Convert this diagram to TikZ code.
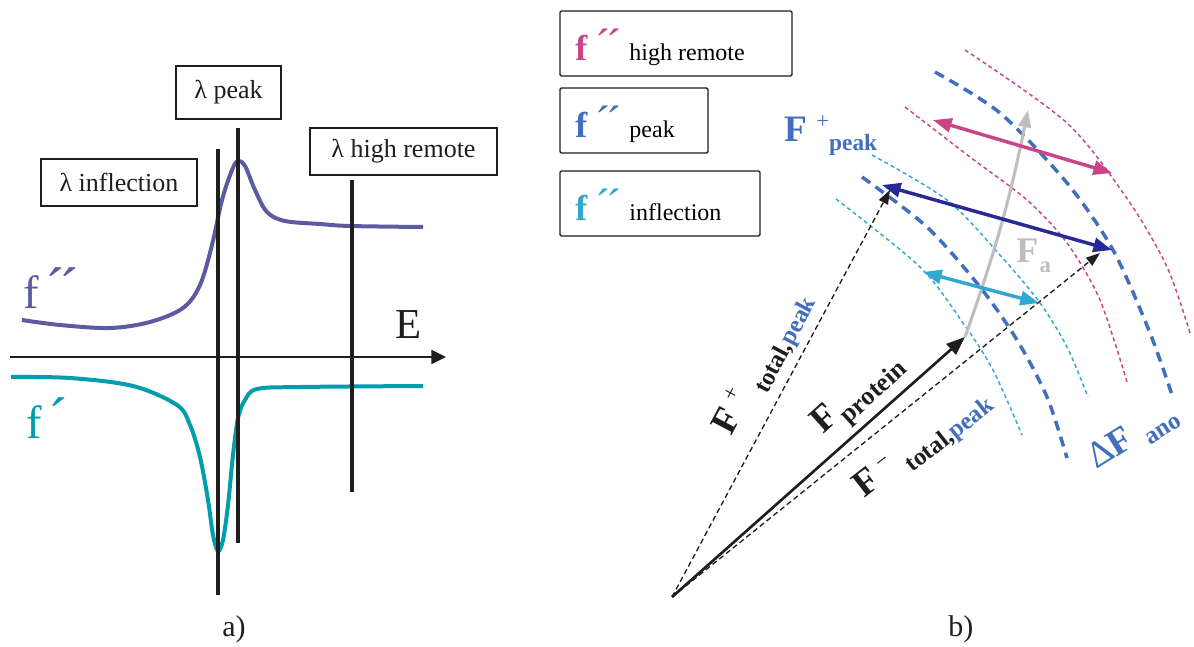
\documentclass[tikz,border=0pt]{standalone}
\usepackage{fontspec}
\setmainfont{Liberation Serif}
\usetikzlibrary{arrows.meta}
\definecolor{cpurp}{RGB}{92,90,160}
\definecolor{cteal}{RGB}{0,158,172}
\definecolor{cpink}{RGB}{200,70,136}
\definecolor{cblue}{RGB}{66,110,190}
\definecolor{cdblue}{RGB}{40,40,150}
\definecolor{ccyan}{RGB}{50,168,208}
\definecolor{cgray}{RGB}{190,190,192}
\definecolor{cblack}{RGB}{30,30,30}
\newcommand{\fsz}[1]{\fontsize{#1}{#1}\selectfont}
\begin{document}
\begin{tikzpicture}[x=0.75pt,y=-0.75pt,
  vline/.style={line width=2.3pt, draw=cblack},
  lbox/.style={draw=cblack, line width=1.6pt, inner sep=0pt, font=\fsz{19.5pt}, text=cblack},
  rbox/.style={draw=cblack, line width=1.1pt, inner sep=0pt, rounded corners=1pt, minimum height=48.75pt},
  lab/.style={inner sep=0pt, anchor=base west},
  thinarc/.style={line width=1.1pt, dash pattern=on 3pt off 2.3pt},
  thickarc/.style={line width=2.6pt, dash pattern=on 7.5pt off 5pt, draw=cblue},
  dbl/.style={line width=2.6pt, {Triangle[length=14pt,width=10.5pt]}-{Triangle[length=14pt,width=10.5pt]}},
  dasharr/.style={line width=1pt, draw=cblack, dash pattern=on 4pt off 2.5pt, -{Triangle[length=10.5pt,width=7.5pt]}}
]
\useasboundingbox (0,0) rectangle (1194,646);
\fill[white] (0,0) rectangle (1194,646);

% ---------------- panel a ----------------
\coordinate (ax0) at (10,357);
\coordinate (ax1) at (446,357);
\draw[line width=1.6pt, cblack, -{Triangle[length=11pt,width=10.5pt]}] (ax0) -- (ax1);

\draw[cpurp, line width=3pt] plot[smooth, tension=0.55] coordinates {(22,320) (60,325) (110,328) (150,322) (183,308) (200,285) (212,245) (222,200) (232,170) (238,161) (245,166) (255,190) (267,212) (285,221) (320,224) (350,226) (423,227)};
\draw[cteal, line width=3pt] plot[smooth, tension=0.55] coordinates {(11,377) (70,378) (133,386) (177,405) (190,425) (200,457) (208,500) (213,535) (218,551) (223,540) (228,505) (233,455) (238,418) (245,400) (257,389) (300,387) (423,386)};

\coordinate (vi0) at (218,149); \coordinate (vi1) at (218,595);
\coordinate (vp0) at (238,128); \coordinate (vp1) at (238,543);
\coordinate (vh0) at (352,180); \coordinate (vh1) at (352,492);
\draw[vline] (vi0) -- (vi1);
\draw[vline] (vp0) -- (vp1);
\draw[vline] (vh0) -- (vh1);

\node[lbox, minimum width=78.75pt, minimum height=39.75pt] (bpeak) at (228.5,92.5) {λ peak};
\node[lbox, minimum width=117pt, minimum height=35.25pt] (binfl) at (119,182.5) {λ inflection};
\node[lbox, minimum width=140.25pt, minimum height=35.25pt] (bhigh) at (403.5,151.5) {λ high remote};

\node[lab, text=cblack] (E) at (395,338) {\fsz{32pt}E};
\node[lab, text=cpurp] (fpp) at (23,308) {\fsz{35pt}f\hspace{5pt}{\fsz{44pt}´\hspace{-4pt}´}};
\node[lab, text=cteal] (fp) at (26,438) {\fsz{35pt}f\hspace{5pt}{\fsz{44pt}´}};
\node[lab, text=cblack] (la) at (222,636) {\fsz{22.5pt}a)};

% ---------------- panel b ----------------
\node[rbox, minimum width=174pt] (rb1) at (676,43.5) {};
\node[rbox, minimum width=111pt] (rb2) at (634,120.5) {};
\node[rbox, minimum width=150pt] (rb3) at (660,203.5) {};
\node[lab] (rt1) at (575,60) {\textcolor{cpink}{\fsz{27pt}\bfseries f}\textcolor{cpink}{\fsz{34pt}\hspace{6pt}´\hspace{-3pt}´}\hspace{6pt}{\fsz{18pt}high remote}};
\node[lab] (rt2) at (575,137) {\textcolor{cblue}{\fsz{27pt}\bfseries f}\textcolor{cblue}{\fsz{34pt}\hspace{6pt}´\hspace{-3pt}´}\hspace{6pt}{\fsz{18pt}peak}};
\node[lab] (rt3) at (575,220) {\textcolor{ccyan}{\fsz{27pt}\bfseries f}\textcolor{ccyan}{\fsz{34pt}\hspace{6pt}´\hspace{-3pt}´}\hspace{6pt}{\fsz{18pt}inflection}};

% arcs
\draw[thinarc, draw=ccyan] plot[smooth] coordinates {(836,199) (920,267) (963,323) (993,370) (1022,435)};
\draw[thinarc, draw=ccyan] plot[smooth] coordinates {(872,155) (947,200) (1000,255) (1040,303) (1067,347) (1088,397)};
\draw[thickarc] plot[smooth] coordinates {(862,177) (927,227) (980,287) (1017,340) (1047,397) (1067,458)};
\draw[thinarc, draw=cpink] plot[smooth] coordinates {(905,107) (970,157) (1027,200) (1067,243) (1100,300) (1127,382)};
\draw[thickarc] plot[smooth] coordinates {(935,72) (1000,113) (1067,183) (1113,250) (1150,333) (1172,395)};
\draw[thinarc, draw=cpink] plot[smooth] coordinates {(965,50) (1067,123) (1128,200) (1167,267) (1190,333)};

% vectors
\coordinate (O) at (672,597);
\coordinate (Pt) at (965,337);
\coordinate (Pp) at (890,190);
\coordinate (Pm) at (1100,253);
\coordinate (Fa) at (1028,110);
\draw[dasharr] (O) -- (Pp);
\draw[dasharr] (O) -- (Pm);
\draw[line width=2pt, cblack, -{Triangle[length=14pt,width=10.5pt]}] (O) -- (Pt);
\draw[line width=2.3pt, cgray, -{Triangle[length=13pt,width=9.5pt]}] (Pt) to[bend right=4] (Fa);

\coordinate (pk1) at (933,120); \coordinate (pk2) at (1112,173);
\coordinate (db1) at (882,185); \coordinate (db2) at (1112,250);
\coordinate (cy1) at (923,272); \coordinate (cy2) at (1039,303);
\draw[dbl, cpink] (pk1) -- (pk2);
\draw[dbl, cdblue] (db1) -- (db2);
\draw[dbl, ccyan] (cy1) -- (cy2);

% labels
\node[lab, text=cblue] (Fpk) at (784,141) {\fsz{28pt}\bfseries F\hspace{7pt}\raisebox{9.5pt}{\fsz{17pt}\mdseries +}\hspace{0pt}\raisebox{-6.75pt}{\fsz{17.5pt}peak}};
\node[lab, text=cgray] (Fal) at (1016,262) {\fsz{27pt}\bfseries F\hspace{1pt}\raisebox{-7.5pt}{\fsz{17pt}a}};
\node[lab, rotate=62, text=cblack] (Ftp) at (731,437) {\fsz{28pt}\bfseries F\hspace{7pt}\raisebox{10pt}{\fsz{17pt}\mdseries +}\hspace{7pt}\raisebox{-9pt}{\fsz{18.5pt}total,\textcolor{cblue}{peak}}};
\node[lab, rotate=38, text=cblack] (Ftm) at (864,499) {\fsz{28pt}\bfseries F\hspace{6pt}\raisebox{9pt}{\fsz{17pt}\mdseries \char"2212}\hspace{8pt}\raisebox{-7pt}{\fsz{18.5pt}total,\textcolor{cblue}{peak}}};
\node[lab, rotate=42, text=cblack] (Fpr) at (823,435) {\fsz{28pt}\bfseries F\hspace{2pt}\raisebox{-7pt}{\fsz{19.5pt}protein}};
\node[lab, rotate=32, text=cblue] (dF) at (1096,470) {\fsz{28pt}Δ\textbf{F}\hspace{9pt}\raisebox{-6pt}{\fsz{18.5pt}\bfseries ano}};
\node[lab, text=cblack] (lb) at (948,636) {\fsz{22.5pt}b)};
\end{tikzpicture}
\end{document}
